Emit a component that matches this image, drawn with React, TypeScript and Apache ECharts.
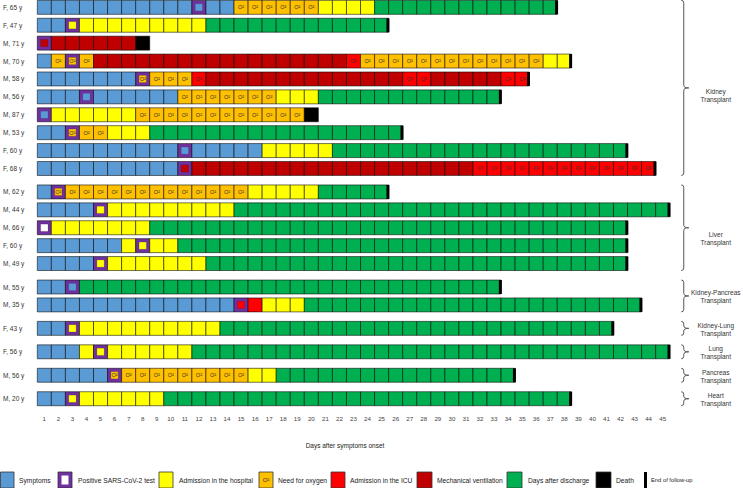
import React, { useEffect, useRef } from "react";
import * as echarts from "echarts";

// ---------------- data ----------------
const patients = [
  "F, 65 y", "F, 47 y", "M, 71 y", "M, 70 y", "M, 58 y", "M, 56 y", "M, 87 y", "M, 53 y", "F, 60 y", "F, 68 y",
  "M, 62 y", "M, 44 y", "M, 66 y", "F, 60 y", "M, 49 y",
  "M, 55 y", "M, 35 y",
  "F, 43 y",
  "F, 56 y",
  "M, 56 y",
  "M, 20 y",
];

const groupOf = [0, 0, 0, 0, 0, 0, 0, 0, 0, 0, 1, 1, 1, 1, 1, 2, 2, 3, 4, 5, 6];

const groupNames = [
  "Kidney\nTransplant",
  "Liver\nTransplant",
  "Kidney-Pancreas\nTransplant",
  "Kidney-Lung\nTransplant",
  "Lung\nTransplant",
  "Pancreas\nTransplant",
  "Heart\nTransplant",
];

// S symptoms, H hospital, O oxygen, U ICU, UO ICU + oxygen, V mechanical ventilation,
// D after discharge, X death, W blank (test only)
const timelines: [string, number][][] = [
  [["S", 14], ["O", 6], ["H", 4], ["D", 13]],
  [["S", 2], ["H", 10], ["D", 13]],
  [["V", 7], ["X", 1]],
  [["S", 1], ["O", 3], ["V", 18], ["UO", 1], ["O", 13], ["H", 2]],
  [["S", 7], ["O", 4], ["UO", 1], ["V", 14], ["UO", 2], ["V", 5], ["UO", 2]],
  [["S", 10], ["O", 7], ["H", 3], ["D", 13]],
  [["S", 1], ["H", 6], ["O", 12], ["X", 1]],
  [["S", 2], ["O", 3], ["H", 3], ["D", 18]],
  [["S", 16], ["H", 5], ["D", 21]],
  [["S", 10], ["V", 21], ["UO", 13]],
  [["S", 1], ["O", 14], ["H", 5], ["D", 5]],
  [["S", 4], ["H", 10], ["D", 31]],
  [["W", 1], ["H", 7], ["D", 34]],
  [["S", 6], ["H", 4], ["D", 32]],
  [["S", 4], ["H", 8], ["D", 30]],
  [["S", 3], ["D", 30]],
  [["S", 14], ["U", 2], ["H", 3], ["D", 24]],
  [["S", 2], ["H", 11], ["D", 28]],
  [["S", 3], ["H", 8], ["D", 34]],
  [["S", 5], ["O", 10], ["H", 2], ["D", 17]],
  [["S", 2], ["H", 7], ["D", 29]],
];

// day of positive SARS-CoV-2 test
const testDays = [12, 3, 1, 3, 8, 4, 1, 3, 11, 11, 2, 5, 1, 8, 5, 3, 15, 3, 5, 6, 3];

const days = [
  "1", "2", "3", "4", "5", "6", "7", "8", "9", "10", "11", "12", "13", "14", "15",
  "16", "17", "18", "19", "20", "21", "22", "23", "24", "25", "26", "27", "28", "29", "30",
  "31", "32", "33", "34", "35", "36", "37", "38", "39", "40", "41", "42", "43", "44", "45",
];

// ---------------- styles ----------------
const stateCodes = ["S", "H", "O", "U", "UO", "V", "D", "X", "W"];
const COLORS: Record<string, string> = {
  S: "#5b9bd5",
  H: "#ffff00",
  O: "#ffc000",
  U: "#ff0000",
  UO: "#ff0000",
  V: "#c00000",
  D: "#00b050",
  X: "#000000",
  W: "#ffffff",
};
const PURPLE = "#7030a0";
const GROUP_GAP = 0.31;
const CELL_H = 0.78;
const FONT = '"Liberation Sans", Arial, sans-serif';
const groupLabelDy = [8, 11, 1, 1, 1, 1, 1];

const rowPos = patients.map((_, r) => r + groupOf[r] * GROUP_GAP);

function buildCells() {
  const cells: number[][] = [];
  timelines.forEach((segs, r) => {
    const total = segs.reduce((a, s) => a + s[1], 0);
    let day = 0;
    segs.forEach(([code, n]) => {
      for (let i = 0; i < n; i++) {
        day++;
        cells.push([
          day - 1,
          rowPos[r],
          stateCodes.indexOf(code),
          r,
          testDays[r] === day ? 1 : 0,
          day === total && code !== "X" ? 1 : 0,
        ]);
      }
    });
  });
  return cells;
}

function buildGroups() {
  return groupNames.map((_, g) => {
    const rows = groupOf.map((gg, r) => (gg === g ? r : -1)).filter((r) => r >= 0);
    return [44, rowPos[rows[0]], rowPos[rows[rows.length - 1]], g];
  });
}

function legendGraphics() {
  const items: any[] = [];
  const y = 472;
  const h = 16;
  const iconStroke = "#333";
  const add = (x: number, w: number, fill: string) =>
    items.push({ type: "rect", shape: { x, y, width: w, height: h }, style: { fill, stroke: iconStroke, lineWidth: 0.8 } });
  const txt = (x: number, text: string, size = 6.7) =>
    items.push({
      type: "text",
      x,
      y: 480,
      style: { text, fill: "#222", font: `${size}px ${FONT}`, align: "left", verticalAlign: "middle" },
    });
  add(0.5, 13.5, COLORS.S);
  txt(19, "Symptoms");
  add(58, 14, PURPLE);
  items.push({ type: "rect", shape: { x: 61.5, y: y + 3.5, width: 7, height: 9 }, style: { fill: "#fff" } });
  txt(78, "Positive SARS-CoV-2 test");
  add(159, 14, COLORS.H);
  txt(179, "Admission in the hospital");
  add(259, 14, COLORS.O);
  items.push({
    type: "text",
    x: 266,
    y: 480,
    style: { text: "O²", fill: "#333", font: `6px ${FONT}`, align: "center", verticalAlign: "middle" },
  });
  txt(278, "Need for oxygen");
  add(331, 14, COLORS.U);
  txt(350, "Admission in the ICU");
  add(417, 15, COLORS.V);
  txt(437, "Mechanical ventilation");
  add(507, 15, COLORS.D);
  txt(528, "Days after discharge");
  add(596, 15, COLORS.X);
  txt(616, "Death");
  items.push({ type: "rect", shape: { x: 644, y: 472, width: 3, height: 16 }, style: { fill: "#000" } });
  txt(651, "End of follow-up", 5.8);
  items.push({
    type: "text",
    x: 345,
    y: 445,
    style: { text: "Days after symptoms onset", fill: "#222", font: `6.5px ${FONT}`, align: "center", verticalAlign: "middle" },
  });
  return items;
}

export default function App() {
  const ref = useRef<HTMLDivElement>(null);

  useEffect(() => {
    document.body.style.margin = "0";
    if (!ref.current) return;
    const chart = echarts.init(ref.current, undefined, { renderer: "svg" });

    const cells = buildCells();
    const groups = buildGroups();

    chart.setOption({
      animation: false,
      grid: { left: 37.3, right: 73.3, top: 0, height: 406.6 },
      xAxis: {
        type: "category",
        data: days,
        boundaryGap: true,
        axisLine: { show: false },
        axisTick: { show: false },
        splitLine: { show: false },
        axisLabel: { interval: 0, fontSize: 6.2, color: "#444", margin: 9, fontFamily: FONT },
      },
      yAxis: { type: "value", inverse: true, min: -0.41, max: 22.3, show: false },
      graphic: legendGraphics(),
      series: [
        {
          type: "custom",
          data: cells,
          encode: { x: 0, y: 1 },
          renderItem: (_p: any, api: any) => {
            const xi = api.value(0);
            const yv = api.value(1);
            const st = stateCodes[api.value(2)];
            const isTest = api.value(4) === 1;
            const isEnd = api.value(5) === 1;
            const c = api.coord([xi, yv]);
            const w = api.size([1, 0])[0];
            const h = api.size([0, CELL_H])[1];
            const x0 = c[0] - w / 2;
            const y0 = c[1] - h / 2;
            const fill = COLORS[st];
            const stroke = "rgba(0,0,0,0.55)";
            const children: any[] = [];
            if (isTest) {
              children.push({ type: "rect", shape: { x: x0, y: y0, width: w, height: h }, style: { fill: PURPLE, stroke, lineWidth: 1 } });
              const ins = w * 0.24;
              children.push({
                type: "rect",
                shape: { x: x0 + ins, y: y0 + ins, width: w - 2 * ins, height: h - 2 * ins },
                style: { fill, stroke: "rgba(0,0,0,0.25)", lineWidth: 0.5 },
              });
            } else {
              children.push({ type: "rect", shape: { x: x0, y: y0, width: w, height: h }, style: { fill, stroke, lineWidth: 1 } });
            }
            if (st === "O" || st === "UO") {
              children.push({
                type: "text",
                x: c[0],
                y: c[1],
                style: { text: "O²", fill: "#333", font: `5.5px ${FONT}`, align: "center", verticalAlign: "middle" },
              });
            }
            if (isEnd) {
              children.push({ type: "rect", shape: { x: x0 + w - 2.2, y: y0, width: 3, height: h }, style: { fill: "#000" } });
            }
            return { type: "group", children };
          },
        },
        {
          type: "custom",
          data: patients.map((_, r) => [0, rowPos[r], r]),
          encode: { x: 0, y: 1 },
          renderItem: (_p: any, api: any) => {
            const c = api.coord([0, api.value(1)]);
            return {
              type: "text",
              x: 3,
              y: c[1],
              style: { text: patients[api.value(2)], fill: "#333", font: `6.5px ${FONT}`, align: "left", verticalAlign: "middle" },
            };
          },
        },
        {
          type: "custom",
          data: groups,
          encode: { x: 0, y: 1 },
          clip: false,
          renderItem: (_p: any, api: any) => {
            const t = api.coord([api.value(0), api.value(1)]);
            const b = api.coord([api.value(0), api.value(2)]);
            const g = api.value(3);
            const w = api.size([1, 0])[0];
            const h = api.size([0, CELL_H])[1];
            const bx = t[0] + 1.5 * w;
            const top = t[1] - h / 2;
            const bot = b[1] + h / 2;
            const mid = (top + bot) / 2;
            const r = 2.5;
            const d = `M${bx - r},${top} Q${bx},${top} ${bx},${top + r} L${bx},${mid - r} Q${bx},${mid} ${bx + 5},${mid} Q${bx},${mid} ${bx},${mid + r} L${bx},${bot - r} Q${bx},${bot} ${bx - r},${bot}`;
            return {
              type: "group",
              children: [
                { type: "path", shape: { pathData: d }, style: { stroke: "#555", fill: "none", lineWidth: 1 } },
                {
                  type: "text",
                  x: bx + 32,
                  y: mid + groupLabelDy[g],
                  style: {
                    text: groupNames[g],
                    fill: "#333",
                    font: `6.5px ${FONT}`,
                    align: "center",
                    verticalAlign: "middle",
                    lineHeight: 8,
                  },
                },
              ],
            };
          },
        },
      ],
    });

    return () => chart.dispose();
  }, []);

  return <div ref={ref} style={{ width: 743, height: 488 }} />;
}
